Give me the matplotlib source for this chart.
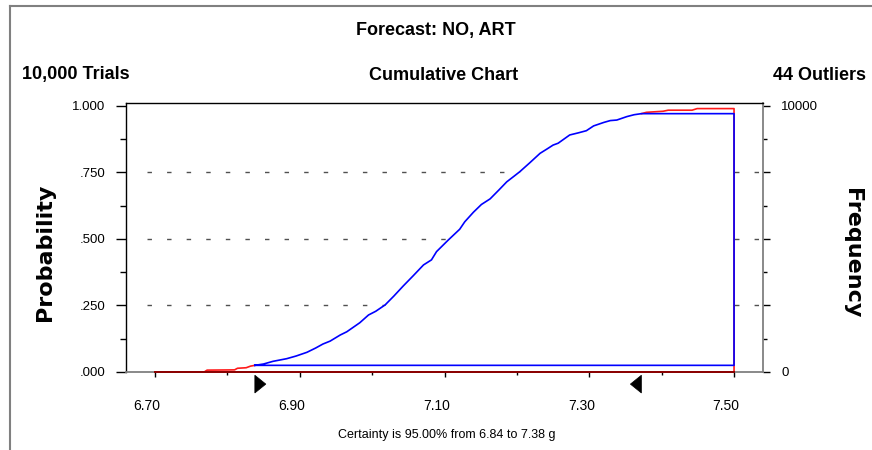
import matplotlib
matplotlib.use("Agg")
import matplotlib.pyplot as plt
from matplotlib.lines import Line2D
from matplotlib.patches import Polygon
from matplotlib.transforms import ScaledTranslation

# ---- data ----
title = "Forecast: NO, ART"
trials_text = "10,000 Trials"
chart_text = "Cumulative Chart"
outliers_text = "44 Outliers"
certainty_text = "Certainty is 95.00% from 6.84 to 7.38 g"

x_ticks = [6.70, 6.90, 7.10, 7.30, 7.50]
x_tick_labels = ["6.70", "6.90", "7.10", "7.30", "7.50"]
x_minor = [6.80, 7.00, 7.20, 7.40]
y_ticks = [0.0, 0.25, 0.5, 0.75, 1.0]
y_tick_labels = [".000", ".250", ".500", ".750", "1.000"]
freq_ticks = [0, 10000]
freq_labels = ["0", "10000"]

# cumulative curve (lower tail, certainty range, upper tail)
lower_x = [6.70, 6.768, 6.772, 6.810, 6.814, 6.826, 6.832, 6.838]
lower_p = [0.000, 0.000, 0.007, 0.008, 0.014, 0.016, 0.022, 0.025]
mid_x = [6.838, 6.850, 6.863, 6.882, 6.895, 6.910, 6.922, 6.932, 6.942, 6.956,
         6.965, 6.983, 6.995, 7.005, 7.018, 7.030, 7.043, 7.057, 7.071, 7.082,
         7.089, 7.105, 7.121, 7.128, 7.140, 7.151, 7.163, 7.175, 7.186, 7.196,
         7.204, 7.218, 7.232, 7.242, 7.250, 7.257, 7.273, 7.285, 7.296, 7.306,
         7.320, 7.329, 7.338, 7.352, 7.362, 7.372]
mid_p = [0.025, 0.030, 0.040, 0.050, 0.060, 0.074, 0.090, 0.105, 0.116, 0.139,
         0.151, 0.185, 0.214, 0.228, 0.252, 0.285, 0.323, 0.362, 0.402, 0.421,
         0.452, 0.495, 0.536, 0.564, 0.600, 0.629, 0.650, 0.683, 0.714, 0.735,
         0.752, 0.786, 0.821, 0.838, 0.852, 0.859, 0.890, 0.898, 0.906, 0.924,
         0.937, 0.944, 0.946, 0.959, 0.966, 0.970]
upper_x = [7.372, 7.379, 7.402, 7.409, 7.442, 7.449, 7.50, 7.50]
upper_p = [0.970, 0.975, 0.979, 0.983, 0.983, 0.989, 0.989, 0.000]

cert_low, cert_high = 6.838, 7.372
p_low, p_high = 0.025, 0.970
range_max = 7.50

FONT = ["Liberation Sans", "DejaVu Sans"]
plt.rcParams["font.family"] = FONT

W, H = 872, 450
fig = plt.figure(figsize=(W / 100, H / 100), dpi=100)
ax = fig.add_axes([126 / W, 1 - 372 / H, (763 - 126) / W, (372 - 103) / H])
ax.set_xlim(6.66, 7.54)
ax.set_ylim(0, 1.01)

# dashed grid lines
for g in [0.25, 0.5, 0.75]:
    ax.plot([20.7 / 637, 1.0], [g, g], transform=ax.get_yaxis_transform(),
            color="#505050", lw=1.0, linestyle=(0, (3.2, 10.9)), zorder=1,
            clip_on=False)

red_x = lower_x + mid_x[1:] + upper_x[1:]
red_p = lower_p + mid_p[1:] + upper_p[1:]
ax.fill_between(red_x, red_p, 0, color="white", lw=0, zorder=2)
# red is visible only outside the certainty range
ax.plot(lower_x, lower_p, color="#ff1a1a", lw=1.2, zorder=3)
ax.plot(upper_x, upper_p, color="#ff1a1a", lw=1.2, zorder=3)

blue_x = mid_x + [range_max, range_max, cert_low]
blue_p = mid_p[:-1] + [p_high, p_high, p_low, p_low]
ax.plot(blue_x, blue_p, color="#0000ff", lw=1.2, zorder=4)

# baseline of the distribution
ax.plot([x_ticks[0], range_max], [0, 0], color="#8b0000", lw=1.4, zorder=5,
        clip_on=False)

# certainty grabbers
tr = ax.get_xaxis_transform()
wdt = 11 / 723.75
ax.add_patch(Polygon([[cert_low, -0.012], [cert_low, -0.078],
                      [cert_low + wdt, -0.045]], closed=True,
                     facecolor="black", edgecolor="black", lw=0.5,
                     transform=tr, clip_on=False))
ax.add_patch(Polygon([[cert_high, -0.012], [cert_high, -0.078],
                      [cert_high - wdt, -0.045]], closed=True,
                     facecolor="black", edgecolor="black", lw=0.5,
                     transform=tr, clip_on=False))

# spines
for s in ["left", "top"]:
    ax.spines[s].set_color("black")
    ax.spines[s].set_linewidth(1.0)
ax.spines["bottom"].set_color("#808080")
ax.spines["bottom"].set_linewidth(1.3)
ax.spines["right"].set_visible(False)

ax.set_xticks(x_ticks)
ax.set_xticklabels(x_tick_labels, fontsize=10)
ax.set_xticks(x_minor, minor=True)
ax.tick_params(axis="x", which="major", length=3.5, width=1, color="black",
               pad=16)
ax.tick_params(axis="x", which="minor", length=2.5, width=1, color="black")
off = ScaledTranslation(-8 / 100, 0, fig.dpi_scale_trans)
for lab in ax.get_xticklabels():
    lab.set_transform(lab.get_transform() + off)

ax.set_yticks(y_ticks)
ax.set_yticklabels(y_tick_labels, fontsize=9.5)
ax.set_yticks([0.125, 0.375, 0.625, 0.875], minor=True)
ax.tick_params(axis="y", which="major", length=7, width=1, pad=8)
ax.tick_params(axis="y", which="minor", length=4, width=1)

# right frequency axis
ax2 = ax.twinx()
ax2.set_ylim(0, 10100)
for s in ["left", "top", "bottom"]:
    ax2.spines[s].set_visible(False)
ax2.spines["right"].set_color("#808080")
ax2.spines["right"].set_linewidth(1.3)
ax2.set_yticks([0, 2500, 5000, 7500, 10000])
ax2.set_yticklabels(["0", "", "", "", "10000"], fontsize=9.5)
ax2.set_yticks([1250, 3750, 6250, 8750], minor=True)
ax2.tick_params(axis="y", which="major", length=5, width=1, pad=8)
ax2.tick_params(axis="y", which="minor", length=3, width=1)

ax.set_zorder(ax2.get_zorder() + 1)
ax.patch.set_visible(False)

# texts
fig.text(436 / W, 1 - 30 / H, title, ha="center", va="center",
         fontsize=13, fontweight="bold")
fig.text(22 / W, 1 - 75 / H, trials_text, ha="left", va="center",
         fontsize=13, fontweight="bold")
fig.text(444 / W, 1 - 75 / H, chart_text, ha="center", va="center",
         fontsize=13, fontweight="bold")
fig.text(866 / W, 1 - 75 / H, outliers_text, ha="right", va="center",
         fontsize=13, fontweight="bold")
fig.text(447 / W, 1 - 435 / H, certainty_text, ha="center", va="center",
         fontsize=9)
fig.text(45 / W, 1 - 252 / H, "Probability", rotation=90, ha="center",
         va="center", fontsize=16, fontweight="bold", family="DejaVu Sans")
fig.text(852 / W, 1 - 253 / H, "Frequency", rotation=-90, ha="center",
         va="center", fontsize=16, fontweight="bold", family="DejaVu Sans")

# outer frame lines
fig.add_artist(Line2D([10 / W, 10 / W], [0, 1 - 6 / H], transform=fig.transFigure,
                      color="#808080", lw=1.5))
fig.add_artist(Line2D([10 / W, 1], [1 - 6 / H, 1 - 6 / H],
                      transform=fig.transFigure, color="#808080", lw=1.5))

fig.savefig("out.png", dpi=100, facecolor="white")
